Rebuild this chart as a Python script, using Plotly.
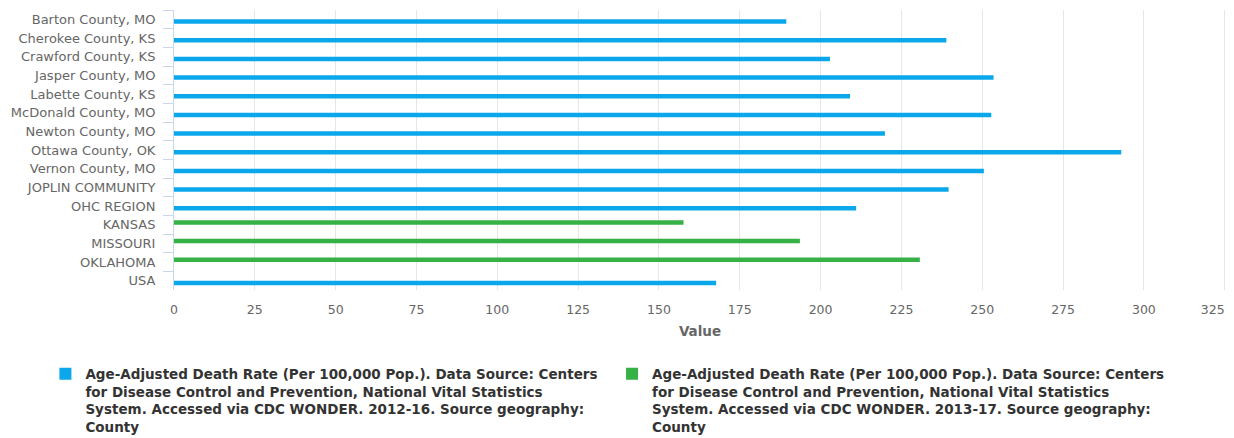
import plotly.graph_objects as go

# categories top to bottom
places = ['Barton County, MO', 'Cherokee County, KS', 'Crawford County, KS', 'Jasper County, MO',
          'Labette County, KS', 'McDonald County, MO', 'Newton County, MO', 'Ottawa County, OK',
          'Vernon County, MO', 'JOPLIN COMMUNITY', 'OHC REGION', 'KANSAS', 'MISSOURI',
          'OKLAHOMA', 'USA']

# 2012-16 series (county level + region + USA)
rate_2012_16 = [189.4, 238.9, 202.9, 253.5, 209.1, 252.8, 219.9, 293.0, 250.5, 239.6, 211.0,
                None, None, None, 167.7]
# 2013-17 series (states)
rate_2013_17 = [None, None, None, None, None, None, None, None, None, None, None,
                157.6, 193.6, 230.7, None]

x_ticks = [0, 25, 50, 75, 100, 125, 150, 175, 200, 225, 250, 275, 300, 325]

name_a = ("Age-Adjusted Death Rate (Per 100,000 Pop.). Data Source: Centers<br>"
          "for Disease Control and Prevention, National Vital Statistics<br>"
          "System. Accessed via CDC WONDER. 2012-16. Source geography:<br>County")
name_b = ("Age-Adjusted Death Rate (Per 100,000 Pop.). Data Source: Centers<br>"
          "for Disease Control and Prevention, National Vital Statistics<br>"
          "System. Accessed via CDC WONDER. 2013-17. Source geography:<br>County")

blue = '#0aa8ea'
green = '#36b145'
font = 'DejaVu Sans'

# last label is pulled inside the edge like the original
tick_text = [str(t) for t in x_ticks]
tick_text[-1] = tick_text[-1] + '\u00a0' * 6

fig = go.Figure()
# green first so it sits in the upper slot of each group
fig.add_trace(go.Bar(y=places, x=rate_2013_17, orientation='h', name=name_b,
                     marker=dict(color=green, line=dict(width=0)), legend='legend2'))
fig.add_trace(go.Bar(y=places, x=rate_2012_16, orientation='h', name=name_a,
                     marker=dict(color=blue, line=dict(width=0)), legend='legend'))

# page body has an 8px margin, so the figure is 8px smaller and shifted
leg_font = dict(family=font, size=13.5, color='#333333', weight='bold')
fig.update_layout(
    width=1226, height=430,
    margin=dict(l=166, r=8, t=2, b=148, autoexpand=False),
    paper_bgcolor='white', plot_bgcolor='white',
    barmode='group', bargap=0.52, bargroupgap=0,
    font=dict(family=font, color='#666666', size=12),
    showlegend=True,
    legend=dict(xref='container', yref='container', x=0.0305, y=0.185,
                xanchor='left', yanchor='top', valign='top', font=leg_font),
    legend2=dict(xref='container', yref='container', x=0.4927, y=0.185,
                 xanchor='left', yanchor='top', valign='top', font=leg_font),
)
fig.update_xaxes(range=[0, 325.4], tickvals=x_ticks, ticktext=tick_text,
                 showgrid=True, gridcolor='#e6e6e6', gridwidth=1,
                 zeroline=False, showline=False, ticks='',
                 ticklabelstandoff=10, ticklabeloverflow='allow',
                 tickfont=dict(size=12.5, color='#666666'),
                 title=dict(text='<b>Value</b>', standoff=11,
                            font=dict(size=13.5, color='#666666')))
fig.update_yaxes(autorange='reversed', categoryorder='array', categoryarray=places,
                 showline=True, linecolor='#ccd6eb', linewidth=1,
                 ticks='outside', tickson='boundaries', ticklen=10, tickcolor='#ccd6eb',
                 showgrid=False, ticklabelstandoff=15,
                 tickfont=dict(size=13, color='#666666'))

fig.write_html("out.html")
